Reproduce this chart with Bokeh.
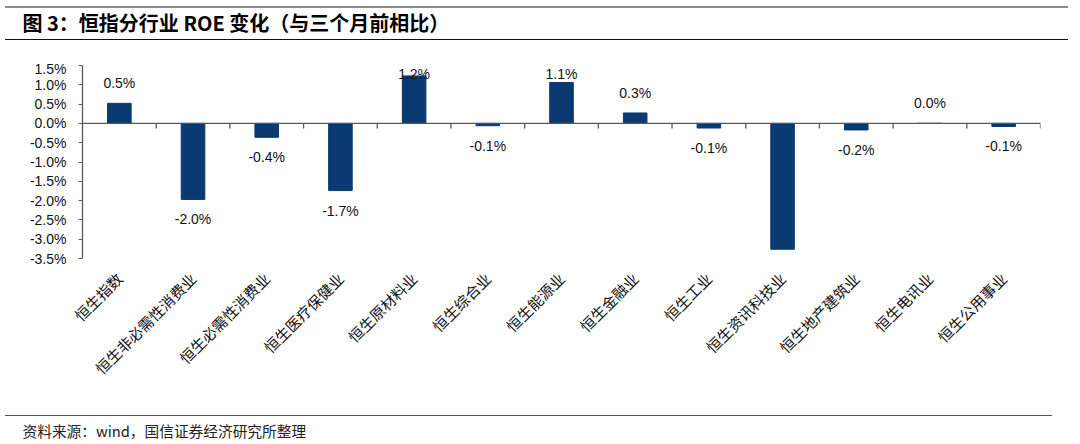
import math
from bokeh.plotting import figure
from bokeh.layouts import column
from bokeh.models import (FactorRange, Range1d, ColumnDataSource, LabelSet, Title,
                          Span, FixedTicker, PrintfTickFormatter, InlineStyleSheet)
from bokeh.core.properties import value
from bokeh.embed import file_html
from bokeh.resources import INLINE

# ---- data ----
categories = ["恒生指数", "恒生非必需性消费业", "恒生必需性消费业", "恒生医疗保健业",
              "恒生原材料业", "恒生综合业", "恒生能源业", "恒生金融业", "恒生工业",
              "恒生资讯科技业", "恒生地产建筑业", "恒生电讯业", "恒生公用事业"]
roe_change = [0.52, -1.97, -0.36, -1.74, 1.23, -0.06, 1.06, 0.27, -0.12,
              -3.26, -0.17, 0.0, -0.08]
y_ticks = [1.5, 1.0, 0.5, 0.0, -0.5, -1.0, -1.5, -2.0, -2.5, -3.0, -3.5]
title_text = "图 3：恒指分行业 ROE 变化（与三个月前相比）"
source_text = "资料来源：wind，国信证券经济研究所整理"

# ---- style / layout ----
bar_color = "#0b3a72"
axis_color = "#595959"
W = 1080
HDR_H, MAIN_H, FTR_H = 60, 346, 38
FL, FR, FT = 82, 40, 5
FRAME_H = 193
FB = MAIN_H - FT - FRAME_H
TEXT_X = 22 - FL          # column aligns frames, so offsets are relative to x=FL

px_per_unit = FRAME_H / (y_ticks[0] - y_ticks[-1])
label_gap = 20 / px_per_unit
label_cap = y_ticks[0] - 8 / px_per_unit
label_y = [min(v + label_gap, label_cap) if v >= 0 else v - label_gap for v in roe_change]
label_txt = [f"{v:.1f}%" for v in roe_change]


def blank_fig(height, css):
    f = figure(width=W, height=height, output_backend="svg", toolbar_location=None,
               x_axis_location=None, y_axis_location=None,
               min_border_left=0, min_border_right=0, min_border_top=0, min_border_bottom=0,
               stylesheets=[InlineStyleSheet(css=css)])
    f.xgrid.visible = False
    f.ygrid.visible = False
    f.outline_line_color = None
    f.background_fill_color = "white"
    f.border_fill_color = "white"
    return f


# ---- header ----
hdr = blank_fig(HDR_H, """
:host { position: relative; }
:host::before { content: ""; position: absolute; z-index: 5; left: 5px; width: 1063px; top: 6px; height: 34px;
  border-top: 2px solid #8c8c8c; border-bottom: 1.6px solid #111111; pointer-events: none; }
""")
hdr.add_layout(Title(text=title_text, align="left", offset=TEXT_X, standoff=14, vertical_align="top",
                     text_font="Noto Sans CJK SC", text_font_size="20px",
                     text_font_style="bold", text_color="#000000"), "above")

# ---- footer ----
ftr = blank_fig(FTR_H, """
:host { position: relative; }
:host::before { content: ""; position: absolute; z-index: 5; left: 5px; width: 1047px; top: 9px; height: 0;
  border-top: 1.6px solid #555555; pointer-events: none; }
""")
ftr.add_layout(Title(text=source_text, align="left", offset=TEXT_X, standoff=8, vertical_align="bottom",
                     text_font="Noto Sans CJK SC", text_font_size="14.7px",
                     text_font_style="normal", text_color="#222222"), "below")

# ---- main chart ----
p = figure(width=W, height=MAIN_H,
           x_range=FactorRange(factors=categories, range_padding=0),
           y_range=Range1d(y_ticks[-1], y_ticks[0]),
           output_backend="svg", toolbar_location=None,
           min_border_left=FL, min_border_right=FR,
           min_border_top=FT, min_border_bottom=FB)
p.xgrid.visible = False
p.ygrid.visible = False
p.outline_line_color = None
p.background_fill_color = "white"
p.border_fill_color = "white"

src = ColumnDataSource(dict(x=categories, top=roe_change, ly=label_y, txt=label_txt))
p.vbar(x="x", top="top", bottom=0, width=0.32, source=src,
       fill_color=bar_color, line_color=bar_color)

p.add_layout(Span(location=0, dimension="width", line_color=axis_color, line_width=1.3))

n = len(categories)
tick_len = 5 / px_per_unit
bx = list(range(1, n + 1))
p.segment(x0=bx, x1=bx, y0=[0] * len(bx), y1=[-tick_len] * len(bx),
          line_color=axis_color, line_width=1.3)

p.add_layout(LabelSet(x="x", y="ly", text="txt", source=src,
                      text_align="center", text_baseline="middle",
                      text_font=value("Liberation Sans"), text_font_size="14px",
                      text_color="#111111"))

ya = p.yaxis[0]
ya.ticker = FixedTicker(ticks=y_ticks)
ya.formatter = PrintfTickFormatter(format="%.1f%%")
ya.major_label_text_font = "Liberation Sans"
ya.major_label_text_font_size = "14px"
ya.major_label_text_color = "#111111"
ya.major_tick_in = 0
ya.major_tick_out = 4
ya.minor_tick_line_color = None
ya.axis_line_color = axis_color
ya.axis_line_width = 1.3
ya.major_tick_line_color = axis_color
ya.major_label_standoff = 12

xa = p.xaxis[0]
xa.axis_line_color = None
xa.major_tick_line_color = None
xa.major_tick_in = 0
xa.major_tick_out = 0
xa.major_label_orientation = math.pi / 4
xa.major_label_text_font = "Noto Sans CJK SC"
xa.major_label_text_font_size = "15px"
xa.major_label_text_color = "#111111"
xa.major_label_standoff = 17

layout = column(hdr, p, ftr, spacing=0)
open("out.html", "w").write(file_html(layout, INLINE))
